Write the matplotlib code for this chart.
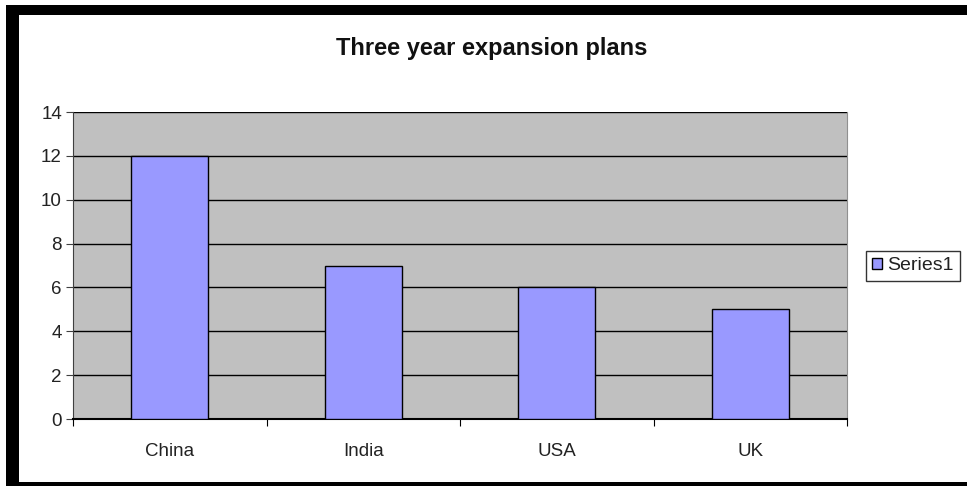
import matplotlib.pyplot as plt
from matplotlib.patches import Rectangle

plt.rcParams['font.family'] = ['Liberation Sans', 'DejaVu Sans']

# Chart data
countries = ['China', 'India', 'USA', 'UK']
plans = [12, 7, 6, 5]
series_name = 'Series1'

fig = plt.figure(figsize=(9.67, 4.86), dpi=100)
fig.patch.set_facecolor('white')

# black frame around the chart (thick top/left, thin bottom)
fig.patches.append(Rectangle((6 / 967, 0), 13 / 967, 481 / 486, transform=fig.transFigure,
                             facecolor='black', edgecolor='none'))
fig.patches.append(Rectangle((6 / 967, 471 / 486), 961 / 967, 10 / 486, transform=fig.transFigure,
                             facecolor='black', edgecolor='none'))
fig.patches.append(Rectangle((6 / 967, 0), 961 / 967, 4 / 486, transform=fig.transFigure,
                             facecolor='black', edgecolor='none'))

ax = fig.add_axes([73 / 967, 1 - 419 / 486, 774 / 967, 307 / 486])
ax.set_facecolor('#c0c0c0')

x = range(len(countries))
bars = ax.bar(x, plans, width=0.4, color='#9999ff', edgecolor='black', linewidth=1,
              label=series_name, zorder=3)

ax.set_xlim(-0.5, len(countries) - 0.5)
ax.set_ylim(0, 14)
ax.set_yticks(range(0, 15, 2))
ax.yaxis.grid(True, color='black', linewidth=1, zorder=1)
ax.set_axisbelow(True)

ax.set_xticks([i + 0.5 for i in range(-1, len(countries))])
ax.set_xticklabels([])
ax.set_xticks(list(x), minor=True)
ax.set_xticklabels(countries, minor=True)
ax.tick_params(axis='x', which='minor', length=0, pad=17, labelsize=13.5, labelcolor='#222222')
ax.tick_params(axis='x', which='major', direction='out', length=5, color='black')
ax.tick_params(axis='y', direction='out', length=5, labelsize=13.5, pad=3, color='#404040',
               labelcolor='#222222')

ax.spines['top'].set_visible(False)
ax.spines['right'].set_color('#909090')
ax.spines['left'].set_color('#404040')
ax.spines['bottom'].set_color('black')
ax.spines['bottom'].set_linewidth(1.5)

fig.text(492 / 967, 1 - 48 / 486, 'Three year expansion plans', ha='center', va='center',
         fontsize=17, fontweight='bold', color='#111111')

leg = fig.legend(handles=[bars], labels=[series_name], loc='center',
                 bbox_to_anchor=(913 / 967, 1 - 266 / 486), frameon=True, fancybox=False,
                 edgecolor='black', fontsize=14, handlelength=0.5, handleheight=0.5,
                 handletextpad=0.25, borderpad=0.35, borderaxespad=0)
leg.get_frame().set_linewidth(1)
for t in leg.get_texts():
    t.set_color('#222222')

fig.savefig('out.png', dpi=100)
